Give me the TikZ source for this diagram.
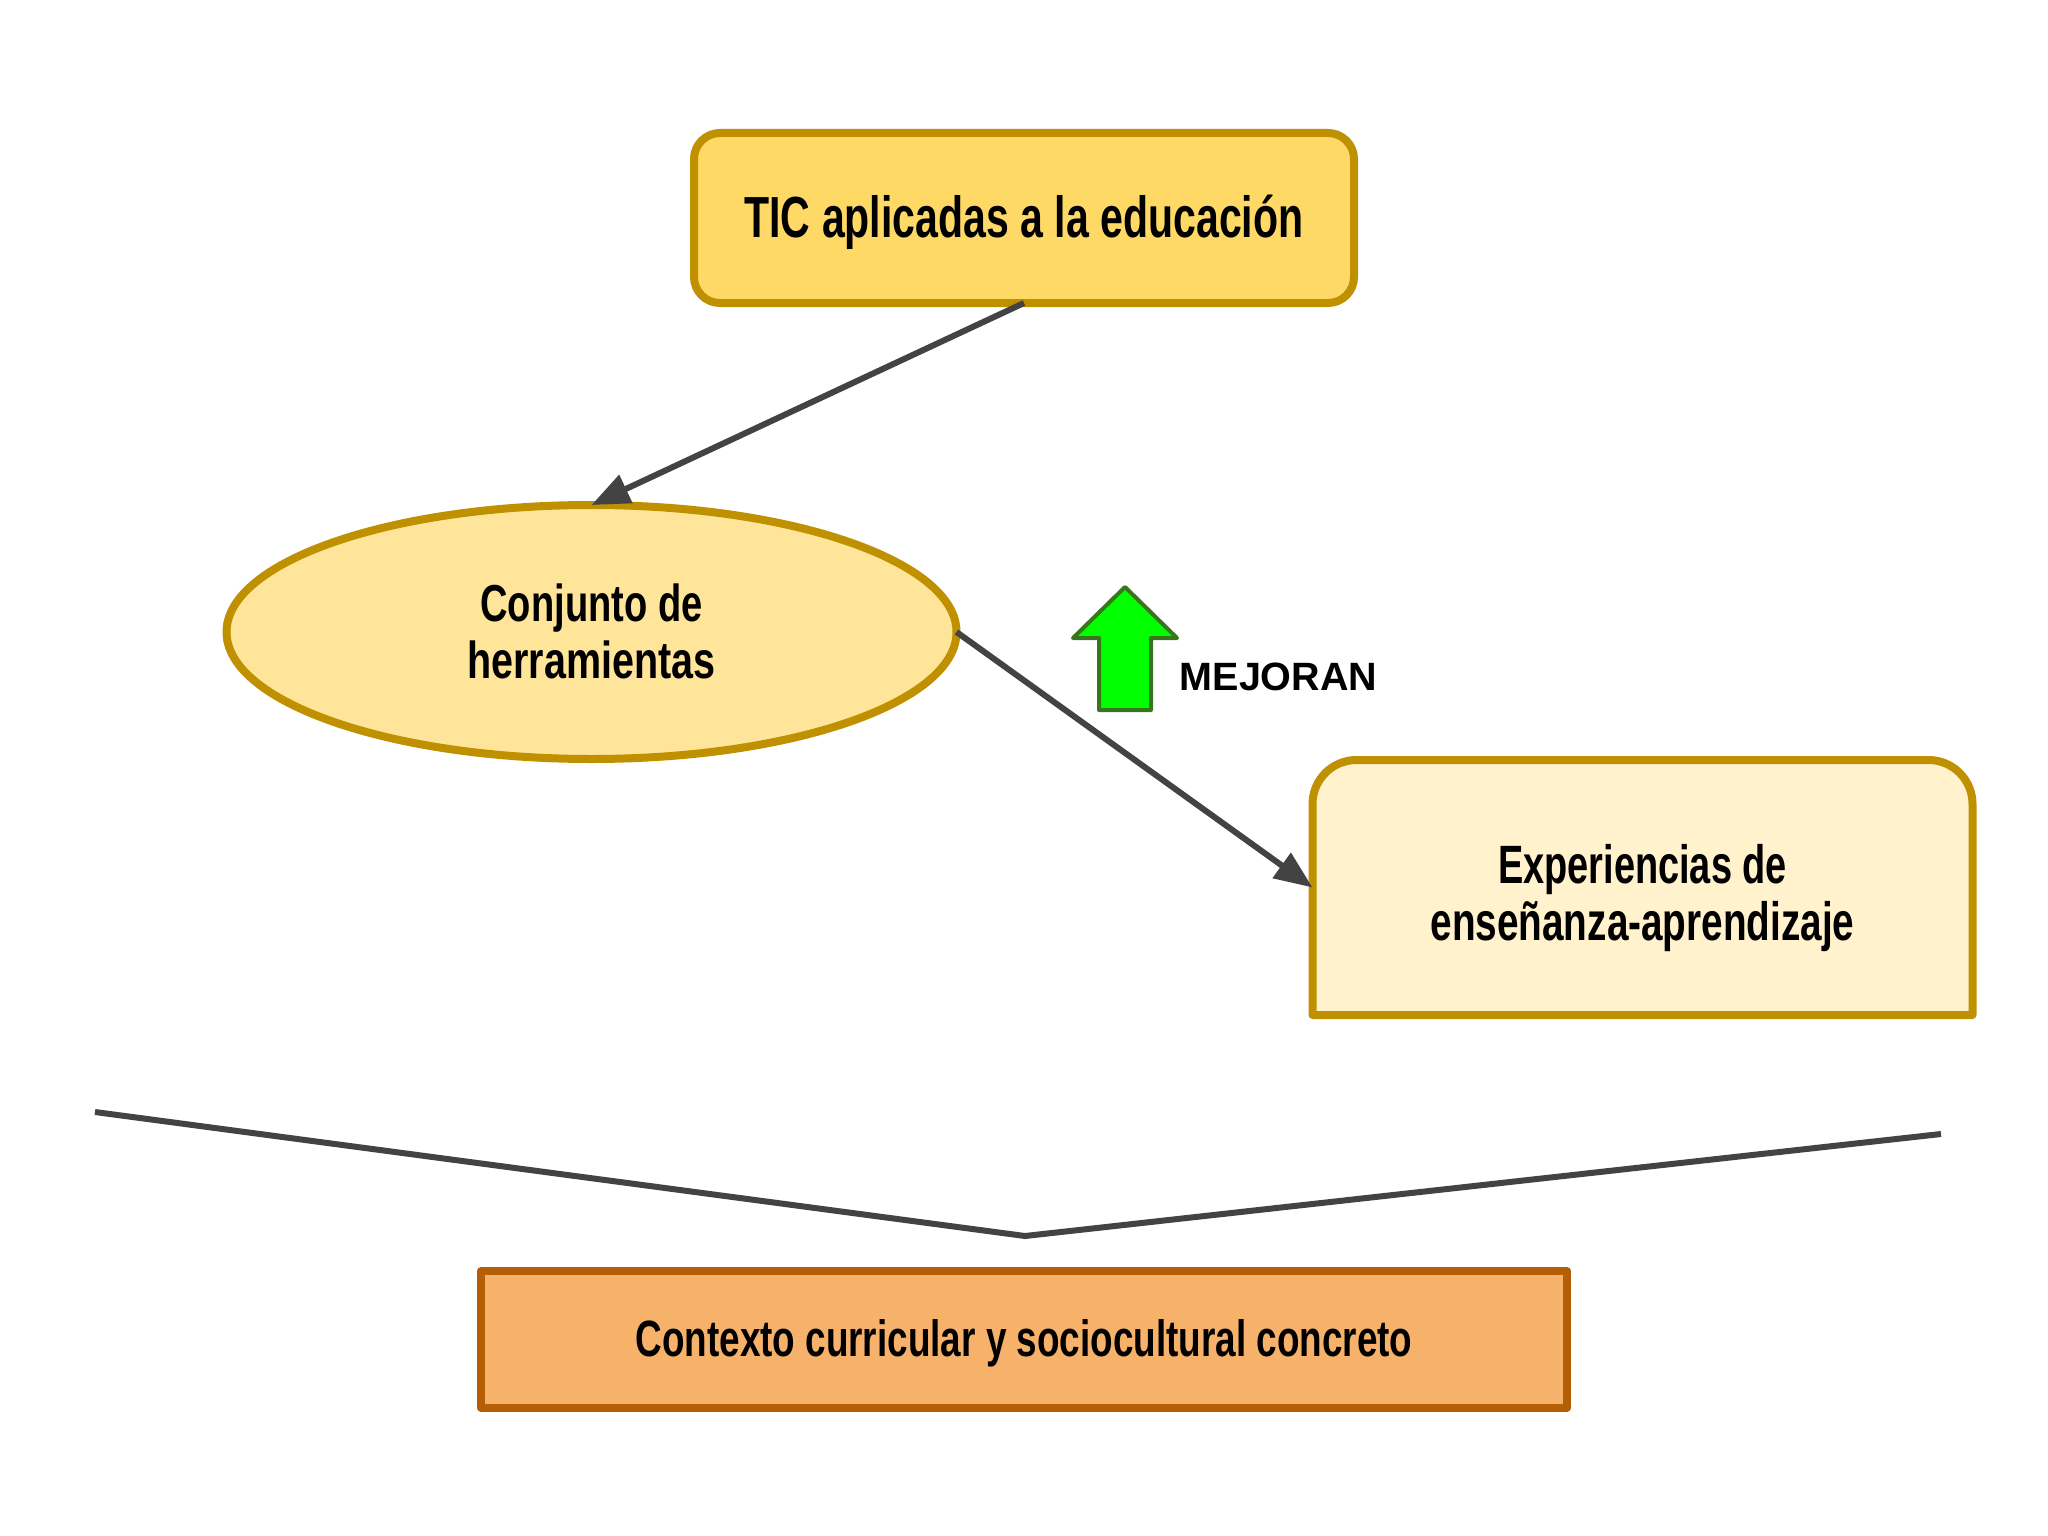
\documentclass[tikz,border=0pt]{standalone}
\usepackage{fontspec}
\usepackage{graphicx}
\setmainfont{Liberation Sans}
\usetikzlibrary{shapes.geometric,arrows.meta,backgrounds}
\definecolor{gold}{HTML}{BF9000}
\definecolor{fillA}{HTML}{FFD966}
\definecolor{fillB}{HTML}{FFE599}
\definecolor{fillC}{HTML}{FFF2CC}
\definecolor{fillD}{HTML}{F6B26B}
\definecolor{edgeD}{HTML}{B45F06}
\definecolor{conn}{HTML}{434343}
\definecolor{greenF}{HTML}{00FF00}
\definecolor{greenE}{HTML}{38761D}
% one condensed line of text, squeezed to a given width
\newcommand{\condline}[3]{\resizebox{#1pt}{\height}{\fontsize{#2pt}{#2pt}\selectfont\bfseries #3}}
% two centred lines, baseline of the box on the first line
\newcommand{\twolines}[5]{\vtop{\baselineskip=57pt\lineskiplimit=-100pt\halign{\hfil##\hfil\cr\condline{#2}{#1}{#3}\cr\condline{#5}{#1}{#4}\cr}}}
\tikzset{
  x=1pt,y=-1pt,
  shapebox/.style={inner sep=0pt,outer sep=0pt,line width=8pt,align=center,text=black},
  conector/.style={draw=conn,line width=6pt},
  punta/.style={-{Triangle[length=38pt,width=30pt]}},
}
\begin{document}
\begin{tikzpicture}
\useasboundingbox (0,0) rectangle (2048,1536);

\node[shapebox,draw=gold,fill=fillA,rounded corners=26pt,minimum width=660pt,minimum height=170pt,
      text height=50pt,text depth=12pt] (tic) at (1024,218)
  {\condline{559}{58}{TIC aplicadas a la educación}};

\node[shapebox,ellipse,draw=gold,fill=fillB,minimum width=730pt,minimum height=254pt,
      text height=40pt,text depth=62pt] (conj) at (591.5,632)
  {\twolines{52}{222}{Conjunto de}{herramientas}{248}};

\node[shapebox,minimum width=660pt,minimum height=255pt,
      text height=50pt,text depth=59pt] (exp) at (1642.5,887.5)
  {\twolines{54}{289}{Experiencias de}{enseñanza-aprendizaje}{424}};
\begin{scope}[on background layer]
  \fill[white] (0,0) rectangle (2048,1536);
  \draw[draw=gold,fill=fillC,line width=8pt,line join=round]
    (exp.south west) [rounded corners=44pt] -- (exp.north west) -- (exp.north east)
    [sharp corners] -- (exp.south east) -- cycle;
\end{scope}

\node[shapebox,draw=edgeD,fill=fillD,line join=round,minimum width=1086pt,minimum height=137pt,
      text height=45pt,text depth=12pt] (ctx) at (1024,1339.5)
  {\condline{777}{51}{Contexto curricular y sociocultural concreto}};

\draw[conector,punta] (tic.south) -- (conj.north);
\draw[conector,punta] (conj.east) -- (exp.west);

\draw[draw=greenE,fill=greenF,line width=4pt,line join=round]
  (1125,587) -- (1177,638) -- (1151,638) -- (1151,710) -- (1099,710) -- (1099,638) -- (1073,638) -- cycle;
\node[anchor=base,inner sep=0pt,text=black] (mej) at (1278.5,690)
  {\fontsize{39.5}{39.5}\selectfont\bfseries MEJORAN};

\coordinate (zigA) at (95,1112);
\coordinate (zigB) at (1025,1236);
\coordinate (zigC) at (1941,1134);
\draw[conector] (zigA) -- (zigB) -- (zigC);
\end{tikzpicture}
\end{document}
